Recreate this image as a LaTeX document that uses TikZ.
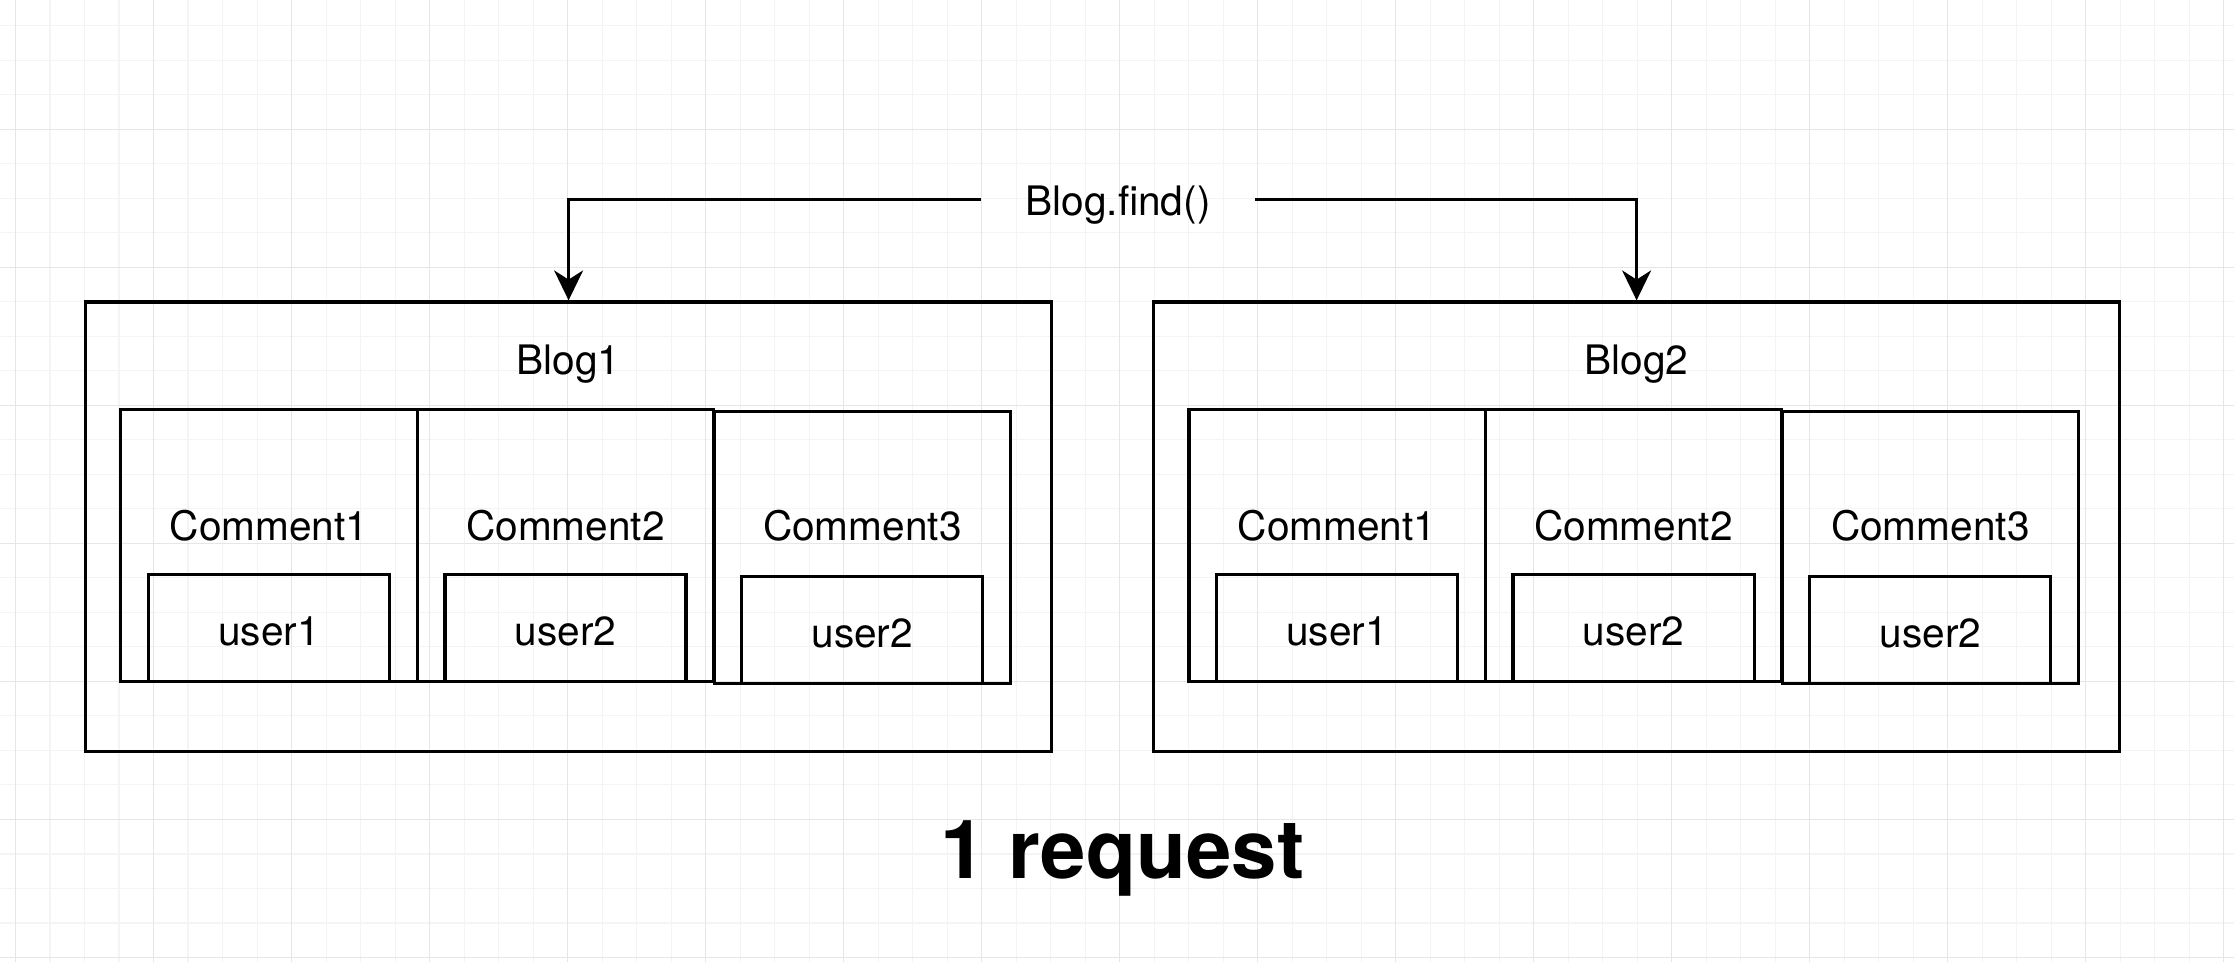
\documentclass[tikz,border=0pt]{standalone}
\usepackage{fontspec}
\setmainfont{TeX Gyre Heros}
\usetikzlibrary{arrows.meta}
\definecolor{gridminor}{HTML}{F4F4F4}
\definecolor{gridmajor}{HTML}{E6E6E6}

\begin{document}
\begin{tikzpicture}[x=0.01cm,y=-0.01cm,
  every node/.style={color=black,font=\fontsize{11.55pt}{13.9pt}\selectfont},
  blogbox/.style={draw,line width=0.9pt,minimum width=9.65cm,minimum height=4.49cm,inner sep=0pt},
  commentbox/.style={draw,line width=0.9pt,minimum width=2.96cm,minimum height=2.72cm,inner sep=0pt},
  userbox/.style={draw,line width=0.9pt,minimum width=2.41cm,minimum height=1.07cm,inner sep=0pt,text height=10pt,text depth=0pt},
  lbl/.style={anchor=base,inner sep=0pt},
  call/.style={-{Stealth[length=8.5pt,width=8.2pt,inset=2.6pt]},line width=0.9pt}]
\useasboundingbox (0,0) rectangle (2234,962);

% background grid
\begin{scope}
\clip (0,0) rectangle (2234,962);
\fill[white] (0,0) rectangle (2234,962);
\foreach \k in {0,...,64} \draw[gridminor,line width=0.4pt] ({15.7+34.5*\k},0) -- ({15.7+34.5*\k},962);
\foreach \k in {1,...,28} \draw[gridminor,line width=0.4pt] (0,{-8.7+34.5*\k}) -- (2234,{-8.7+34.5*\k});
\foreach \k in {0,...,16} \draw[gridmajor,line width=0.4pt] ({15.7+138*\k},0) -- ({15.7+138*\k},962);
\foreach \k in {1,...,7} \draw[gridmajor,line width=0.4pt] (0,{-8.7+138*\k}) -- (2234,{-8.7+138*\k});
\end{scope}

\node[blogbox](blog1) at (568.6, 526.6) {};
\node[blogbox](blog2) at (1636.6, 526.6) {};
\node[lbl](blog1t) at (568.6, 375) {Blog1};
\node[lbl](blog2t) at (1636.6, 375) {Blog2};

% Blog1
\node[commentbox](b1c1) at (269, 545.8) {};
\node[commentbox](b1c2) at (565.5, 545.8) {};
\node[commentbox](b1c3) at (862.3, 547.6) {};
\node[lbl](b1c1t) at (269, 540.7) {Comment1};
\node[lbl](b1c2t) at (565.5, 540.7) {Comment2};
\node[lbl](b1c3t) at (862.3, 540.7) {Comment3};
\node[userbox](b1u1) at (269, 628.3) {user1};
\node[userbox](b1u2) at (565.5, 628.3) {user2};
\node[userbox](b1u3) at (862.3, 630.1) {user2};

% Blog2
\node[commentbox](b2c1) at (1337, 545.8) {};
\node[commentbox](b2c2) at (1633.5, 545.8) {};
\node[commentbox](b2c3) at (1930.3, 547.6) {};
\node[lbl](b2c1t) at (1337, 540.7) {Comment1};
\node[lbl](b2c2t) at (1633.5, 540.7) {Comment2};
\node[lbl](b2c3t) at (1930.3, 540.7) {Comment3};
\node[userbox](b2u1) at (1337, 628.3) {user1};
\node[userbox](b2u2) at (1633.5, 628.3) {user2};
\node[userbox](b2u3) at (1930.3, 630.1) {user2};

\node[lbl,inner xsep=12.5pt](find) at (1118, 215.7) {Blog.find()};
\draw[call] ([yshift=4.67pt]find.base west) -| (blog1.north);
\draw[call] ([yshift=4.67pt]find.base east) -| (blog2.north);

\node[lbl,font=\fontsize{23.2pt}{28pt}\selectfont\bfseries](req) at (1122.5, 878.3) {1 request};
\end{tikzpicture}
\end{document}
